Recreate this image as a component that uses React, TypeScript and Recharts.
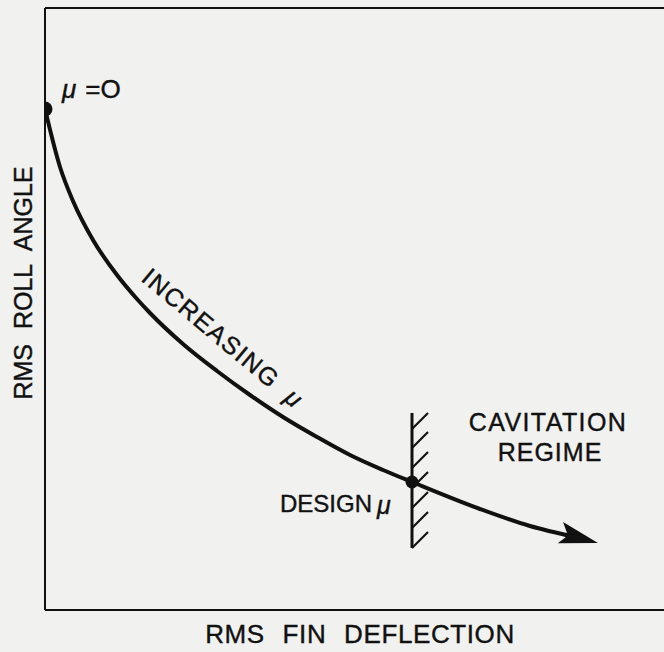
import {
  ComposedChart,
  Customized,
  Line,
  ReferenceLine,
  Scatter,
  XAxis,
  YAxis,
} from "recharts";

// curve: rms fin deflection vs rms roll angle (arbitrary units)
const FIN_DEFLECTION = [0, 15, 28, 48, 72, 92, 105, 138, 172, 205, 238, 272, 305, 338, 367, 435, 485, 530];
const ROLL_ANGLE = [501, 443, 409, 370, 335, 311, 297, 266, 239, 215, 193, 173, 155, 140, 128, 101, 84, 73];

// mu = 0 start point and design point
const POINT_X = [0, 367];
const POINT_Y = [501, 128];

// arrow tip of the increasing-mu direction
const ARROW_X = [553];
const ARROW_Y = [67];

// cavitation limit wall
const WALL_X = 367;
const WALL_Y = [62, 197];
const HATCH_Y = [62, 82, 102, 122, 142, 162, 181];

const curve = FIN_DEFLECTION.map((x, i) => ({ x, y: ROLL_ANGLE[i] }));
const points = POINT_X.map((x, i) => ({ x, y: POINT_Y[i] }));
const arrow = ARROW_X.map((x, i) => ({ x, y: ARROW_Y[i] }));

const INK = "#111";
const FONT = "'Liberation Sans', Arial, sans-serif";

function Dot(props: any) {
  const { cx, cy, index } = props;
  return <circle cx={cx} cy={cy} r={index === 0 ? 7.5 : 6.5} fill={INK} />;
}

function ArrowHead(props: any) {
  const { cx, cy } = props;
  return (
    <polygon
      points="0,0 -39,-12 -31,0 -39,10"
      fill={INK}
      transform={`translate(${cx},${cy}) rotate(14)`}
    />
  );
}

function Labels() {
  const t = { fontFamily: FONT, fill: INK, fontSize: 25, stroke: INK, strokeWidth: 0.4 };
  return (
    <g>
      <text x={62} y={98} {...t} fontSize={26}>
        <tspan fontStyle="italic">μ</tspan>
        <tspan dx={9}>=O</tspan>
      </text>
      <text x={140} y={280} {...t} letterSpacing={1.5} transform="rotate(40, 140, 280)">
        INCREASING
        <tspan dx={16} fontStyle="italic">μ</tspan>
      </text>
      <text x={548} y={431} {...t} textAnchor="middle" letterSpacing={1.4}>
        CAVITATION
      </text>
      <text x={550} y={461} {...t} textAnchor="middle" letterSpacing={1}>
        REGIME
      </text>
      <text x={372} y={512} {...t} fontSize={24} textAnchor="end">
        DESIGN
      </text>
      <text x={377} y={514} {...t} fontStyle="italic">
        μ
      </text>
      <text
        x={32}
        y={283}
        {...t}
        textAnchor="middle"
        wordSpacing={8}
        transform="rotate(-90, 32, 283)"
      >
        RMS ROLL ANGLE
      </text>
      <text x={360} y={643} {...t} fontSize={26} textAnchor="middle" letterSpacing={0.6} wordSpacing={10}>
        RMS FIN DEFLECTION
      </text>
    </g>
  );
}

export default function App() {
  return (
    <div
      style={{
        position: "absolute",
        left: 0,
        top: 0,
        width: 664,
        height: 652,
        overflow: "hidden",
        background: "#f1f1ef",
      }}
    >
      <ComposedChart width={700} height={652} margin={{ top: 8, right: 0, left: 44, bottom: 41 }}>
        <XAxis
          type="number"
          dataKey="x"
          domain={[0, 655]}
          height={1}
          tick={false}
          tickLine={false}
          axisLine={{ stroke: INK, strokeWidth: 2 }}
          allowDataOverflow
        />
        <YAxis
          type="number"
          dataKey="y"
          domain={[0, 602]}
          width={1}
          tick={false}
          tickLine={false}
          axisLine={{ stroke: INK, strokeWidth: 2 }}
          allowDataOverflow
        />
        <ReferenceLine y={602} stroke={INK} strokeWidth={2} />
        <ReferenceLine
          segment={[
            { x: WALL_X, y: WALL_Y[0] },
            { x: WALL_X, y: WALL_Y[1] },
          ]}
          stroke={INK}
          strokeWidth={3}
        />
        {HATCH_Y.map((y) => (
          <ReferenceLine
            key={y}
            segment={[
              { x: WALL_X, y },
              { x: WALL_X + 16, y: y + 16 },
            ]}
            stroke={INK}
            strokeWidth={2.2}
          />
        ))}
        <Line
          data={curve}
          dataKey="y"
          type="monotone"
          stroke={INK}
          strokeWidth={4}
          dot={false}
          activeDot={false}
          isAnimationActive={false}
        />
        <Scatter data={points} dataKey="y" shape={<Dot />} isAnimationActive={false} />
        <Scatter data={arrow} dataKey="y" shape={<ArrowHead />} isAnimationActive={false} />
        <Customized component={<Labels />} />
      </ComposedChart>
    </div>
  );
}
